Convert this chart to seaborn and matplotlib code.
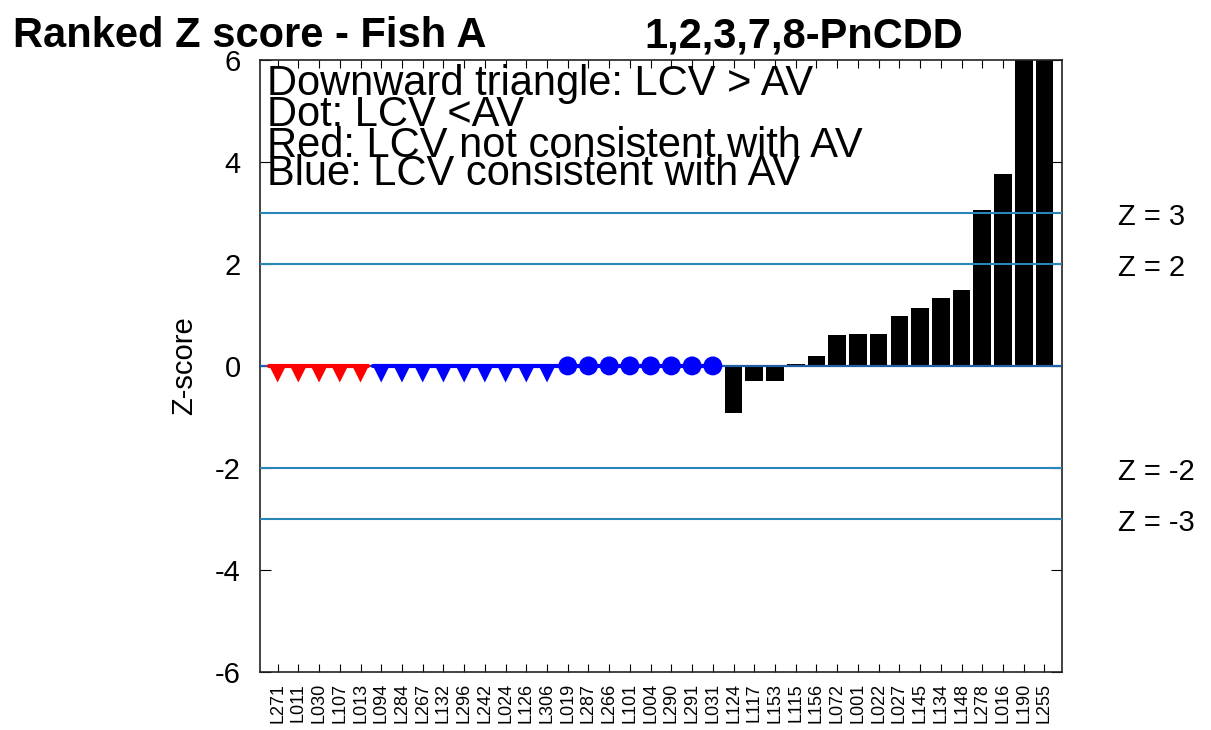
import matplotlib
matplotlib.use("Agg")
import matplotlib.pyplot as plt
import seaborn as sns
import pandas as pd
import numpy as np

# labs in ranked order
labs = ['L271', 'L011', 'L030', 'L107', 'L013', 'L094', 'L284', 'L267', 'L132', 'L296',
        'L242', 'L024', 'L126', 'L306', 'L019', 'L287', 'L266', 'L101', 'L004', 'L290',
        'L291', 'L031', 'L124', 'L117', 'L153', 'L115', 'L156', 'L072', 'L001', 'L022',
        'L027', 'L145', 'L134', 'L148', 'L278', 'L016', 'L190', 'L255']

# marker groups (no z-score, shown on the zero line)
red_tri = ['L271', 'L011', 'L030', 'L107', 'L013']
blue_tri = ['L094', 'L284', 'L267', 'L132', 'L296', 'L242', 'L024', 'L126', 'L306']
blue_dot = ['L019', 'L287', 'L266', 'L101', 'L004', 'L290', 'L291', 'L031']

# bars
bar_labs = ['L124', 'L117', 'L153', 'L115', 'L156', 'L072', 'L001', 'L022',
            'L027', 'L145', 'L134', 'L148', 'L278', 'L016', 'L190', 'L255']
bar_z = [-0.92, -0.3, -0.3, 0.04, 0.2, 0.6, 0.62, 0.62,
         0.98, 1.13, 1.33, 1.48, 3.05, 3.76, 8.5, 12.0]

z_lines = [3, 2, -2, -3]
z_texts = ['Z = 3', 'Z = 2', 'Z = -2', 'Z = -3']
notes = ['Downward triangle: LCV > AV', 'Dot: LCV <AV',
         'Red: LCV not consistent with AV', 'Blue: LCV consistent with AV']

sns.set_style("ticks")
plt.rcParams['font.family'] = ['Liberation Sans', 'DejaVu Sans']
plt.rcParams['axes.unicode_minus'] = False
plt.rcParams['text.color'] = 'black'
plt.rcParams['xtick.color'] = 'black'
plt.rcParams['ytick.color'] = 'black'
plt.rcParams['axes.labelcolor'] = 'black'

fig = plt.figure(figsize=(12.11, 7.3), dpi=100)
ax = fig.add_axes([0.2147, 0.0795, 0.6623, 0.8385])

bars = pd.DataFrame({'lab': bar_labs, 'z': bar_z})
sns.barplot(data=bars, x='lab', y='z', order=labs, color='black', width=0.85,
            saturation=1, edgecolor='none', ax=ax, zorder=2)

pos = {l: i for i, l in enumerate(labs)}
line_col = '#2a86b8'
ax.axhline(0, color='#1f5fa8', lw=1.6, zorder=3)
for z in z_lines:
    ax.axhline(z, color=line_col, lw=1.5, zorder=3)

# red triangles
xr = [pos[l] for l in red_tri]
ax.plot([xr[0] - 0.4, xr[-1] + 0.35], [0, 0], color='red', lw=3, zorder=4)
sns.scatterplot(x=xr, y=[-0.15] * len(xr), marker='v', s=165, color='red',
                edgecolor='none', ax=ax, zorder=5)
# blue triangles and dots
xb = [pos[l] for l in blue_tri]
xd = [pos[l] for l in blue_dot]
ax.plot([xb[0] - 0.4, xd[-1]], [0, 0], color='blue', lw=3, zorder=4)
sns.scatterplot(x=xb, y=[-0.15] * len(xb), marker='v', s=165, color='blue',
                edgecolor='none', ax=ax, zorder=5)
sns.scatterplot(x=xd, y=[0] * len(xd), marker='o', s=185, color='blue',
                edgecolor='none', ax=ax, zorder=5)

ax.set_xlim(-0.85, len(labs) - 0.15)
ax.set_ylim(-6, 6)
ax.set_yticks([-6, -4, -2, 0, 2, 4, 6])
ax.set_xlabel('')
ax.set_ylabel('Z-score', fontsize=21, labelpad=12)
ax.tick_params(axis='y', labelsize=21, direction='in', length=8, right=True, pad=14)
ax.tick_params(axis='x', labelsize=13, direction='in', length=6, top=True,
               rotation=90, pad=8)
for s in ax.spines.values():
    s.set_linewidth(1.2)
    s.set_color('#222222')

# notes
for txt, y in zip(notes, [5.31, 4.71, 4.10, 3.55]):
    ax.text(-0.5, y, txt, fontsize=30, va='baseline', ha='left', zorder=6)

# Z labels at right
for txt, z in zip(z_texts, z_lines):
    ax.text(1.07, z - 0.08, txt, transform=ax.get_yaxis_transform(),
            fontsize=21, va='center', ha='left')

fig.text(0.011, 0.935, 'Ranked Z score - Fish A', fontsize=30, fontweight='bold',
         va='baseline', ha='left')
fig.text(0.532, 0.935, '1,2,3,7,8-PnCDD', fontsize=30, fontweight='bold',
         va='baseline', ha='left')

fig.savefig('out.png', dpi=100)
